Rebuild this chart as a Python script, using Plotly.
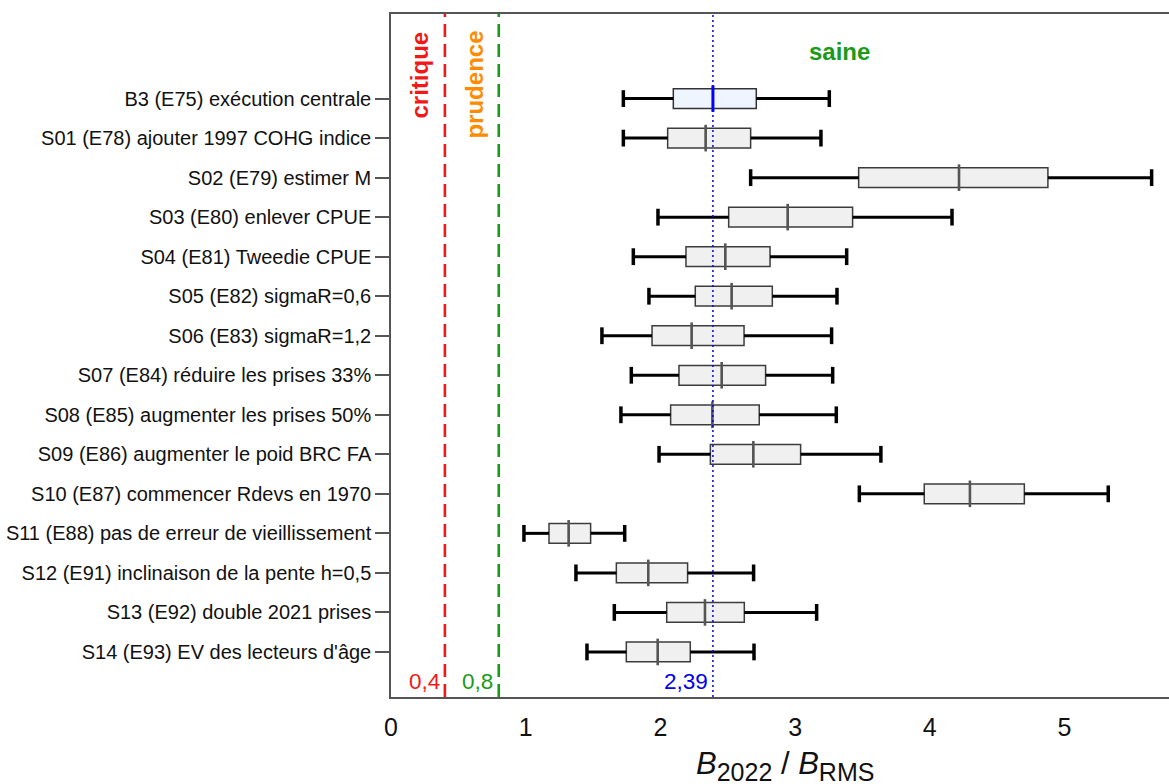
import plotly.graph_objects as go

labels = [
    "B3 (E75) exécution centrale",
    "S01 (E78) ajouter 1997 COHG indice",
    "S02 (E79) estimer M",
    "S03 (E80) enlever CPUE",
    "S04 (E81) Tweedie CPUE",
    "S05 (E82) sigmaR=0,6",
    "S06 (E83) sigmaR=1,2",
    "S07 (E84) réduire les prises 33%",
    "S08 (E85) augmenter les prises 50%",
    "S09 (E86) augmenter le poid BRC FA",
    "S10 (E87) commencer Rdevs en 1970",
    "S11 (E88) pas de erreur de vieillissement",
    "S12 (E91) inclinaison de la pente h=0,5",
    "S13 (E92) double 2021 prises",
    "S14 (E93) EV des lecteurs d'âge",
]
wlow  = [1.725, 1.725, 2.670, 1.982, 1.799, 1.915, 1.566, 1.784, 1.707, 1.990, 3.477, 0.987, 1.373, 1.658, 1.455]
q1    = [2.096, 2.054, 3.472, 2.507, 2.190, 2.259, 1.938, 2.138, 2.076, 2.371, 3.959, 1.173, 1.673, 2.047, 1.747]
med   = [2.390, 2.336, 4.217, 2.945, 2.482, 2.529, 2.232, 2.455, 2.386, 2.690, 4.298, 1.319, 1.910, 2.331, 1.980]
q3    = [2.712, 2.670, 4.877, 3.427, 2.814, 2.831, 2.621, 2.781, 2.734, 3.041, 4.702, 1.482, 2.202, 2.623, 2.222]
whigh = [3.254, 3.192, 5.647, 4.165, 3.383, 3.311, 3.271, 3.279, 3.306, 3.637, 5.325, 1.735, 2.692, 3.160, 2.695]

LRP = 0.4
USR = 0.8
REF = 2.39

n = len(labels)
ypos = [n - i for i in range(n)]

fig = go.Figure()

# boxes (gray ones)
idx = list(range(1, n))
fig.add_trace(go.Box(
    orientation="h", y=[ypos[i] for i in idx],
    q1=[q1[i] for i in idx], median=[med[i] for i in idx], q3=[q3[i] for i in idx],
    lowerfence=[q1[i] for i in idx], upperfence=[q3[i] for i in idx],
    width=0.5, fillcolor="#F0F0F0", line=dict(color="#3c3c3c", width=1.5),
    whiskerwidth=0, showlegend=False, hoverinfo="skip",
))
# base case box
fig.add_trace(go.Box(
    orientation="h", y=[ypos[0]], q1=[q1[0]], median=[med[0]], q3=[q3[0]],
    lowerfence=[q1[0]], upperfence=[q3[0]],
    width=0.5, fillcolor="#EEF5FF", line=dict(color="#333333", width=1.5),
    whiskerwidth=0, showlegend=False, hoverinfo="skip",
))

# whiskers
wx, wy = [], []
for i in range(n):
    wx += [wlow[i], q1[i], None, q3[i], whigh[i], None]
    wy += [ypos[i], ypos[i], None, ypos[i], ypos[i], None]
fig.add_trace(go.Scatter(x=wx, y=wy, mode="lines", line=dict(color="black", width=3),
                         showlegend=False, hoverinfo="skip"))
fig.add_trace(go.Scatter(x=wlow + whigh, y=ypos + ypos, mode="markers",
                         marker=dict(symbol="line-ns", size=12, line=dict(color="black", width=3.5)),
                         showlegend=False, hoverinfo="skip"))

# medians
fig.add_trace(go.Scatter(x=med[1:], y=ypos[1:], mode="markers",
                         marker=dict(symbol="line-ns", size=19, line=dict(color="#555555", width=2.6)),
                         showlegend=False, hoverinfo="skip"))

# reference lines
ymin, ymax = -0.14, 17.14
fig.add_trace(go.Scatter(x=[LRP, LRP], y=[ymin, ymax], mode="lines",
                         line=dict(color="#F21818", width=2.6, dash="13px,7px"),
                         showlegend=False, hoverinfo="skip"))
fig.add_trace(go.Scatter(x=[USR, USR], y=[ymin, ymax], mode="lines",
                         line=dict(color="#1A9A1A", width=2.6, dash="13px,7px"),
                         showlegend=False, hoverinfo="skip"))
fig.add_trace(go.Scatter(x=[REF, REF], y=[ymin, ymax], mode="lines",
                         line=dict(color="#0000EE", width=1.5, dash="2px,3px"),
                         showlegend=False, hoverinfo="skip"))
fig.add_trace(go.Scatter(x=[med[0]], y=[ypos[0]], mode="markers",
                         marker=dict(symbol="line-ns", size=19, line=dict(color="#0000FF", width=3)),
                         showlegend=False, hoverinfo="skip"))

font = "Liberation Sans, Arial, sans-serif"
ann = [
    dict(x=0.215, y=0.978, yref="paper", text="<b>critique</b>", textangle=-90,
         font=dict(size=24, color="#F21818"), xanchor="center", yanchor="top"),
    dict(x=0.62, y=0.978, yref="paper", text="<b>prudence</b>", textangle=-90,
         font=dict(size=24, color="#FF8C00"), xanchor="center", yanchor="top"),
    dict(x=3.33, y=0.945, yref="paper", text="<b>saine</b>",
         font=dict(size=24, color="#1A9A1A"), xanchor="center", yanchor="middle"),
    dict(x=LRP - 0.025, y=0.022, yref="paper", text="0,4",
         font=dict(size=22.5, color="#F21818"), xanchor="right", yanchor="middle"),
    dict(x=USR - 0.025, y=0.022, yref="paper", text="0,8",
         font=dict(size=22.5, color="#1A9A1A"), xanchor="right", yanchor="middle"),
    dict(x=REF - 0.02, y=0.022, yref="paper", text="2,39",
         font=dict(size=22.5, color="#0000EE"), xanchor="right", yanchor="middle"),
    dict(x=0.507, xref="paper", y=-0.101, yref="paper",
         text="<i>B</i><sub><span style='font-size:25px'>2022</span></sub> / <i>B</i><sub><span style='font-size:25px'>RMS</span></sub>",
         font=dict(size=31, color="#111111"), xanchor="center", yanchor="middle", showarrow=False),
]
for a in ann:
    a.setdefault("showarrow", False)
    a.setdefault("xref", "x")

fig.update_layout(
    width=1169, height=784,
    margin=dict(l=391, r=0, t=14, b=87),
    plot_bgcolor="white", paper_bgcolor="white",
    font=dict(family=font, color="#111111"),
    annotations=ann,
    showlegend=False,
)
fig.update_xaxes(range=[0, 5.776], tickvals=[0, 1, 2, 3, 4, 5], ticktext=["0", "1", "2", "3", "4", "5"],
                 showgrid=False, zeroline=False, showline=True, linecolor="#555555", linewidth=1.5,
                 mirror=True, ticks="", tickfont=dict(size=25, color="#111111"),
                 ticklabelstandoff=7)
fig.update_yaxes(range=[ymin, ymax], tickvals=ypos, ticktext=labels,
                 showgrid=False, zeroline=False, showline=True, linecolor="#555555", linewidth=1.5,
                 ticks="outside", ticklen=14, tickwidth=1.5, tickcolor="#555555",
                 tickfont=dict(size=20, color="#111111"))

fig.write_html("out.html")
